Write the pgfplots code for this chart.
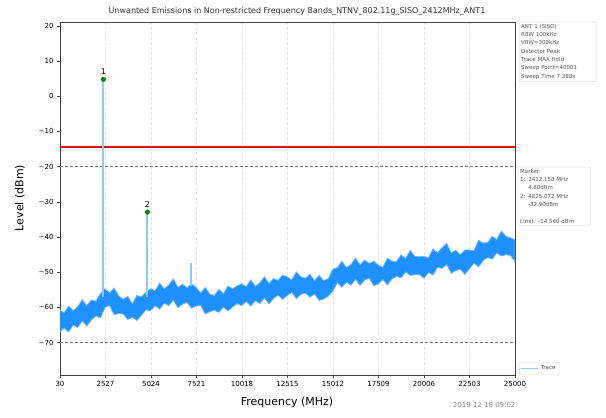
\documentclass[border=0pt]{standalone}
\usepackage{fontspec}
\setmainfont{DejaVu Sans}
\usepackage{pgfplots}
\usepackage{pgfplotstable}
\pgfplotsset{compat=1.18}

\definecolor{tracecol}{HTML}{1E90FF}
\definecolor{edgecol}{HTML}{6AB4FF}
\definecolor{spikecol}{HTML}{8CC8F8}
\definecolor{mkcol}{HTML}{0A8A0A}
\definecolor{limitcol}{HTML}{E01010}

% noise band of the trace (dBm): upper envelope left to right, then lower envelope right to left
\pgfplotstableread{
f v
30 -60.7
250 -61.6
500 -59.6
750 -60.9
1000 -59.8
1250 -57.8
1500 -59.5
1750 -57.9
2000 -58.2
2250 -56.1
2500 -54.7
2750 -55.9
3000 -54.5
3250 -56.7
3500 -57.7
3750 -56.9
4000 -59.0
4250 -56.6
4500 -57.0
4750 -55.7
5000 -54.7
5250 -55.3
5500 -53.1
5750 -54.7
6000 -53.6
6250 -51.9
6500 -54.3
6750 -53.4
7000 -54.4
7250 -53.3
7500 -54.3
7750 -55.9
8000 -54.3
8250 -56.2
8500 -56.6
8750 -54.9
9000 -56.1
9250 -53.9
9500 -54.7
9750 -53.9
10000 -53.3
10250 -54.1
10500 -52.2
10750 -54.0
11000 -53.0
11250 -51.3
11500 -53.2
11750 -51.8
12000 -52.3
12250 -50.8
12500 -51.3
12750 -52.2
13000 -49.9
13250 -51.3
13500 -51.7
13750 -50.6
14000 -52.4
14250 -50.9
14500 -52.4
14750 -51.8
15000 -49.2
15250 -48.7
15500 -46.9
15750 -48.7
16000 -47.8
16250 -46.0
16500 -47.9
16750 -46.5
17000 -47.5
17250 -46.9
17500 -48.0
17750 -48.6
18000 -46.0
18250 -46.9
18500 -46.9
18750 -45.1
19000 -46.1
19250 -43.8
19500 -45.5
19750 -45.6
20000 -45.5
20250 -45.9
20500 -43.4
20750 -44.5
21000 -43.0
21250 -41.8
21500 -44.5
21750 -43.8
22000 -45.0
22250 -43.7
22500 -43.7
22750 -43.9
23000 -40.9
23250 -41.7
23500 -41.6
23750 -39.8
24000 -40.7
24250 -38.3
24500 -39.8
24750 -40.2
25000 -40.8
25000 -47.0
24750 -45.2
24500 -45.0
24250 -45.4
24000 -44.5
23750 -46.3
23500 -45.8
23250 -46.7
23000 -48.5
22750 -47.4
22500 -49.0
22250 -50.6
22000 -49.2
21750 -49.5
21500 -50.3
21250 -47.8
21000 -48.9
20750 -48.6
20500 -50.8
20250 -50.1
20000 -51.7
19750 -50.6
19500 -50.7
19250 -50.9
19000 -49.9
18750 -51.6
18500 -51.1
18250 -51.9
18000 -53.6
17750 -52.1
17500 -53.3
17250 -53.8
17000 -51.7
16750 -52.2
16500 -53.7
16250 -52.0
16000 -53.7
15750 -52.8
15500 -54.3
15250 -52.9
15000 -55.4
14750 -56.8
14500 -57.6
14250 -58.0
14000 -56.2
13750 -57.1
13500 -55.9
13250 -56.3
13000 -57.5
12750 -55.7
12500 -56.6
12250 -57.7
12000 -56.5
11750 -57.5
11500 -59.0
11250 -57.3
11000 -58.9
10750 -58.1
10500 -59.6
10250 -58.3
10000 -59.5
9750 -58.9
9500 -59.9
9250 -61.0
9000 -59.9
8750 -61.4
8500 -60.8
8250 -61.2
8000 -61.9
7750 -59.4
7500 -59.6
7250 -60.2
7000 -58.6
6750 -59.1
6500 -60.1
6250 -57.9
6000 -59.5
5750 -58.8
5500 -60.5
5250 -59.5
5000 -60.9
4750 -60.7
4500 -62.2
4250 -63.7
4000 -62.8
3750 -63.4
3500 -61.9
3250 -61.7
3000 -62.1
2750 -59.4
2500 -60.0
2250 -63.0
2000 -62.4
1750 -63.6
1500 -65.3
1250 -63.8
1000 -65.7
750 -65.0
500 -67.0
250 -65.8
30 -66.9
}\banddata

\begin{document}
\begin{tikzpicture}
\path (0pt,0pt) rectangle (606pt,418pt);

\begin{axis}[
    at={(60pt,43pt)}, anchor=south west,
    width=455pt, height=353pt, scale only axis,
    xmin=30, xmax=25000,
    ymin=-79.2, ymax=21.1,
    scaled x ticks=false,
    xtick={30,2527,5024,7521,10018,12515,15012,17509,20006,22503,25000},
    xticklabels={30,2527,5024,7521,10018,12515,15012,17509,20006,22503,25000},
    ytick={-70,-60,-50,-40,-30,-20,-10,0,10,20},
    yticklabels={−70,−60,−50,−40,−30,−20,−10,0,10,20},
    tick align=outside, tick pos=left,
    major tick length=3pt,
    tick style={black!70, line width=0.6pt},
    ticklabel style={font=\fontsize{7}{8}\selectfont},
    xmajorgrids,
    major grid style={densely dashed, gray!22, line width=0.5pt},
    axis line style={line width=0.8pt, black!75},
    legend style={at={(1.009,0)}, anchor=south west,
        font=\fontsize{5.5}{6}\selectfont, draw=gray!30,
        rounded corners=1pt, inner sep=1.5pt, text=black!70},
    legend cell align=left,
]
% limit line (-14.54 dBm) as a filled strip
\addplot[forget plot, fill=limitcol, draw=none] coordinates {(30,-14.25) (25000,-14.25) (25000,-14.83) (30,-14.83)};
% reference lines
\addplot[forget plot, color=black!55, densely dashed, line width=0.6pt] coordinates {(30,-20) (25000,-20)};
\addplot[forget plot, color=black!55, densely dashed, line width=0.6pt] coordinates {(30,-70) (25000,-70)};

% trace: noise band
\addplot[forget plot, fill=tracecol, draw=edgecol, line width=0.8pt] table[x=f, y=v] {\banddata};

% spikes as filled strips
\addplot[forget plot, fill=spikecol, draw=none] coordinates {(2362,-57) (2362,4.8) (2462,4.8) (2462,-57)};
\addplot[forget plot, fill=spikecol, draw=none] coordinates {(4775,-57) (4775,-32.9) (4875,-32.9) (4875,-57)};
\addplot[forget plot, fill=spikecol, draw=none] coordinates {(7190,-54) (7190,-47.5) (7280,-47.5) (7280,-54)};

% markers
\addplot[forget plot, only marks, mark=*, mark size=2.3pt, color=mkcol] coordinates {(2412.158,4.8) (4825.072,-32.9)};
\node[above=1.5pt, font=\fontsize{8}{9}\selectfont] at (axis cs:2412.158,4.8) {1};
\node[above=1.5pt, font=\fontsize{8}{9}\selectfont] at (axis cs:4825.072,-32.9) {2};

\addlegendimage{draw=spikecol, line width=1pt}
\addlegendentry{Trace}
\end{axis}

% title, labels
\node[anchor=base, font=\fontsize{8}{10}\selectfont, text=black!80] at (297pt,404pt) {Unwanted Emissions in Non-restricted Frequency Bands\_NTNV\_802.11g\_SISO\_2412MHz\_ANT1};
\node[anchor=base, font=\fontsize{11}{13}\selectfont] at (287pt,12pt) {Frequency (MHz)};
\node[rotate=90, font=\fontsize{11}{13}\selectfont] at (20pt,220pt) {Level (dBm)};
\node[anchor=base east, font=\fontsize{7}{8}\selectfont, text=black!45] at (519pt,10pt) {2019 12 18 09:02};

% info boxes
\node[anchor=north west, draw=gray!30, rounded corners=1pt, inner sep=2pt,
      text width=73pt, align=left, font=\fontsize{5.5}{8.3}\selectfont, text=black!65]
      at (519pt,396pt) {ANT 1 (SISO)\\RBW 100kHz\\VBW=300kHz\\Detector Peak\\Trace MAX Hold\\Sweep Point=40001\\Sweep Time 7.388s};
\node[anchor=north west, draw=gray!30, rounded corners=1pt, inner sep=2pt,
      text width=68pt, align=left, font=\fontsize{5.5}{8.3}\selectfont, text=black!65]
      at (518pt,251pt) {Marker:\\1: 2412.158 MHz\\\hspace*{8pt}4.80dBm\\2: 4825.072 MHz\\\hspace*{8pt}-32.90dBm\\[8.3pt]Limit: -14.540 dBm};
\end{tikzpicture}
\end{document}
